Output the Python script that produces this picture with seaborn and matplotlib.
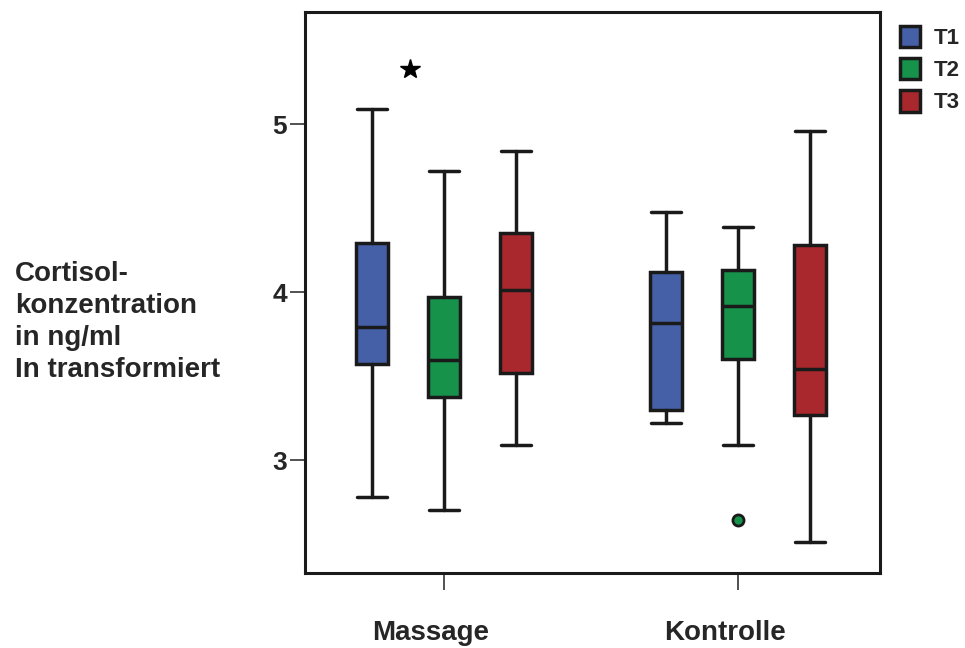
import numpy as np
import matplotlib
matplotlib.use("Agg")
import matplotlib.pyplot as plt
import matplotlib.transforms as mtransforms
import seaborn as sns
from matplotlib.patches import Patch

# -----------------------------
# Data
# -----------------------------
groups = ["Massage", "Kontrolle"]
times = ["T1", "T2", "T3"]
colors = ["#4560A6", "#16924A", "#A8282D"]

# per group, per time point: whisker low, Q1, median, Q3, whisker high
whislo = [[2.78, 2.70, 3.09], [3.22, 3.09, 2.51]]
q1 = [[3.57, 3.375, 3.52], [3.30, 3.60, 3.27]]
med = [[3.79, 3.595, 4.01], [3.815, 3.92, 3.54]]
q3 = [[4.29, 3.97, 4.35], [4.12, 4.13, 4.28]]
whishi = [[5.09, 4.72, 4.84], [4.48, 4.39, 4.96]]
outliers = [[[], [], []], [[], [2.645], []]]
extremes = [[[5.33], [], []], [[], [], []]]

sns.set_style("white")
plt.rcParams["font.family"] = ["Liberation Sans", "DejaVu Sans"]
plt.rcParams["font.weight"] = "bold"

fig = plt.figure(figsize=(9.65, 6.48), dpi=100)
ax = fig.add_axes([0.316, 0.1157, 0.596, 0.8654])

offsets = [-0.245, 0.0, 0.245]
width = 0.11

for g in range(len(groups)):
    for t in range(len(times)):
        stats = [{
            "whislo": whislo[g][t], "q1": q1[g][t], "med": med[g][t],
            "q3": q3[g][t], "whishi": whishi[g][t], "fliers": [],
        }]
        pos = g + offsets[t]
        ax.bxp(stats, positions=[pos], widths=width, patch_artist=True,
               showfliers=False, manage_ticks=False,
               boxprops=dict(facecolor=colors[t], edgecolor="#1a1a1a", linewidth=2.5),
               medianprops=dict(color="#1a1a1a", linewidth=2.5),
               whiskerprops=dict(color="#1a1a1a", linewidth=2.5),
               capprops=dict(color="#1a1a1a", linewidth=2.5),
               capwidths=width * 0.95)
        for v in outliers[g][t]:
            ax.plot(pos, v, marker="o", markersize=8, markerfacecolor=colors[t],
                    markeredgecolor="#1a1a1a", markeredgewidth=2)
        for v in extremes[g][t]:
            ax.plot(pos + 0.13, v, marker="*", markersize=15, color="black")

ax.set_xlim(-0.473, 1.483)
ax.set_ylim(2.327, 5.667)
ax.set_yticks([3, 4, 5])
ax.set_yticklabels(["3", "4", "5"], fontsize=19, fontweight="bold")
ax.set_xticks([0, 1])
ax.set_xticklabels(groups, fontsize=20, fontweight="bold")
ax.tick_params(axis="y", direction="out", length=11, width=1.2, color="#333333", pad=2, left=True)
ax.tick_params(axis="x", direction="out", length=12, width=1.2, color="#333333", pad=22, bottom=True)
# labels sit slightly left of their ticks in the original
shift = mtransforms.ScaledTranslation(-13 / 100, 0, fig.dpi_scale_trans)
for lbl in ax.get_xticklabels():
    lbl.set_transform(lbl.get_transform() + shift)
for s in ax.spines.values():
    s.set_linewidth(2.2)
    s.set_color("#1a1a1a")

fig.text(15 / 965, 1 - 322 / 648,
         "Cortisol-\nkonzentration\nin ng/ml\nIn transformiert",
         fontsize=20, fontweight="bold", ha="left", va="center", linespacing=1.3)

handles = [Patch(facecolor=c, edgecolor="#1a1a1a", linewidth=2.5) for c in colors]
fig.legend(handles, times, loc="upper left", bbox_to_anchor=(900 / 965, 1 - 26 / 648),
           frameon=False, prop=dict(size=16, weight="bold"),
           handlelength=0.9, handleheight=1.1, handletextpad=0.6,
           labelspacing=0.4, borderaxespad=0, borderpad=0)

fig.savefig("out.png", dpi=100)
